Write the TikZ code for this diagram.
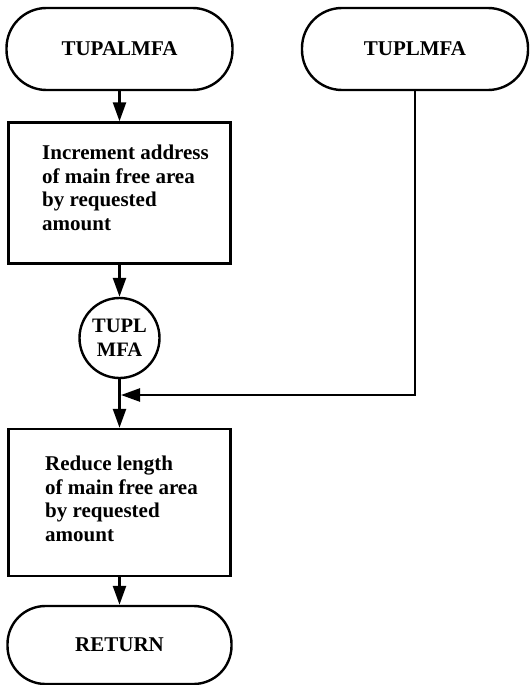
\documentclass[tikz,border=0pt]{standalone}
\usepackage{fontspec}
\setmainfont{Liberation Serif}
\usetikzlibrary{arrows.meta}
\begin{document}
\begin{tikzpicture}[x=1pt,y=-1pt,
  every node/.style={font=\fontsize{21}{23.5}\selectfont\bfseries},
  terminal/.style={draw,line width=2.4pt,rounded corners=40pt,minimum height=82pt,inner sep=0pt},
  procbox/.style={draw,line width=2.4pt,minimum width=222pt,inner sep=0pt},
  boxtext/.style={anchor=west,align=left,inner sep=0pt},
  connector/.style={draw,circle,line width=2.4pt,minimum size=80pt,inner sep=0pt,align=center,font=\fontsize{20.5}{24}\selectfont\bfseries},
  flow/.style={line width=2.4pt,-{Triangle[length=19pt,width=13pt]}}]
\useasboundingbox (0,0) rectangle (530,685);
\node[terminal,minimum width=226pt] (t1) at (119.5,49) {TUPALMFA};
\node[terminal,minimum width=226pt] (t2) at (415,49) {TUPLMFA};
\node[procbox,minimum height=141pt] (b1) at (119.5,193) {};
\node[boxtext] (b1t) at (42,188) {Increment address\\of main free area\\by requested\\amount};
\node[connector] (c) at (119.5,338) {TUPL\\MFA};
\node[procbox,minimum height=147pt] (b2) at (119.5,502.5) {};
\node[boxtext] (b2t) at (45,499) {Reduce length\\of main free area\\by requested\\amount};
\node[terminal,minimum width=224pt,minimum height=78pt,rounded corners=38pt] (r) at (119.5,645) {RETURN};
\coordinate (m) at (121,395);
\draw[flow] (t1) -- (b1);
\draw[flow] (b1) -- (c);
\draw[flow] (c) -- (b2);
\draw[flow] (t2.south) |- (m);
\draw[flow] (b2) -- (r);
\end{tikzpicture}
\end{document}
